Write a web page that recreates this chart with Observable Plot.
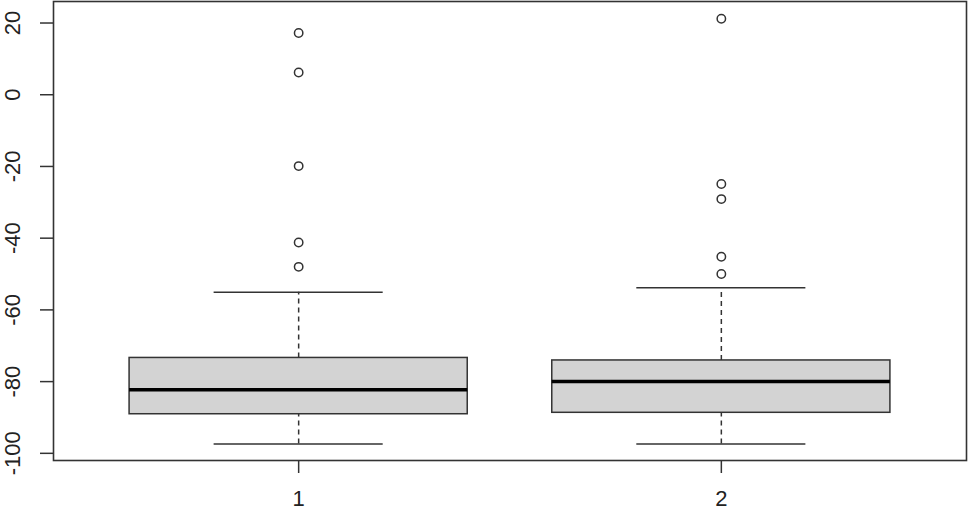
<!DOCTYPE html>
<html>
<head>
<meta charset="utf-8">
<script src="https://cdn.jsdelivr.net/npm/d3@7"></script>
<script src="https://cdn.jsdelivr.net/npm/@observablehq/plot@0.6"></script>
<style>
  html, body { margin: 0; padding: 0; background: #fff; overflow: hidden; }
  svg { display: block; }
</style>
</head>
<body>
<div id="chart"></div>
<script>
// ---- data ----
const groups = [1, 2];
const groupLabels = ["1", "2"];
const whiskerLow = [-97.4, -97.4];
const q1 = [-89.1, -88.7];
const medians = [-82.3, -80.0];
const q3 = [-73.4, -74.1];
const whiskerHigh = [-55.1, -53.8];
const outliers1 = [17.2, 6.2, -19.9, -41.2, -48.0];
const outliers2 = [21.2, -24.9, -29.1, -45.2, -50.0];
const yTicks = [-100, -80, -60, -40, -20, 0, 20];

// ---- tables built from the arrays ----
const boxes = groups.map((g, i) => ({
  g, lo: whiskerLow[i], q1: q1[i], med: medians[i], q3: q3[i], hi: whiskerHigh[i]
}));
const outliers = [
  ...outliers1.map(v => ({g: groups[0], v})),
  ...outliers2.map(v => ({g: groups[1], v}))
];

const HALF = 0.4;   // half box width (style)
const CAP = 0.2;    // half staple width (style)
const ink = "#333";
const txt = "#222";

const chart = Plot.plot({
  width: 968,
  height: 511,
  marginLeft: 53,
  marginRight: 2,
  marginTop: 1,
  marginBottom: 51,
  style: {fontFamily: "'Liberation Sans', Arial, sans-serif", fontSize: "22px", color: txt, background: "#fff"},
  x: {type: "linear", domain: [0.42, 2.58]},
  y: {domain: [-102.0, 26.0]},
  marks: [
    // whiskers (dashed)
    Plot.ruleX(boxes, {x: "g", y1: "q3", y2: "hi", stroke: ink, strokeWidth: 1.5, strokeDasharray: "5,4"}),
    Plot.ruleX(boxes, {x: "g", y1: "lo", y2: "q1", stroke: ink, strokeWidth: 1.5, strokeDasharray: "5,4"}),
    // staples
    Plot.ruleY(boxes, {y: "hi", x1: d => d.g - CAP, x2: d => d.g + CAP, stroke: ink, strokeWidth: 1.5}),
    Plot.ruleY(boxes, {y: "lo", x1: d => d.g - CAP, x2: d => d.g + CAP, stroke: ink, strokeWidth: 1.5}),
    // boxes
    Plot.rect(boxes, {x1: d => d.g - HALF, x2: d => d.g + HALF, y1: "q1", y2: "q3", fill: "#d3d3d3", stroke: ink, strokeWidth: 1.5}),
    // medians
    Plot.ruleY(boxes, {y: "med", x1: d => d.g - HALF, x2: d => d.g + HALF, stroke: "#000", strokeWidth: 3.5}),
    // outliers
    Plot.dot(outliers, {x: "g", y: "v", r: 4.2, fill: "#fff", stroke: ink, strokeWidth: 1.5}),
    // y axis: ticks, then rotated labels
    Plot.axisY(yTicks, {tickSize: 13, tickFormat: () => "", stroke: ink, strokeWidth: 1.5, label: null}),
    Plot.axisY(yTicks, {tickSize: 0, tickPadding: 40.5, rotate: -90, textAnchor: "middle", lineAnchor: "middle", fontSize: 22, tickFormat: d => String(d), fill: txt, label: null}),
    // x axis
    Plot.axisX(groups, {tickSize: 13, tickPadding: 17, fontSize: 22, tickFormat: (d, i) => groupLabels[i], stroke: ink, strokeWidth: 1.5, fill: txt, label: null}),
    Plot.frame({stroke: ink, strokeWidth: 1.6})
  ]
});
document.getElementById("chart").appendChild(chart);
</script>
</body>
</html>
